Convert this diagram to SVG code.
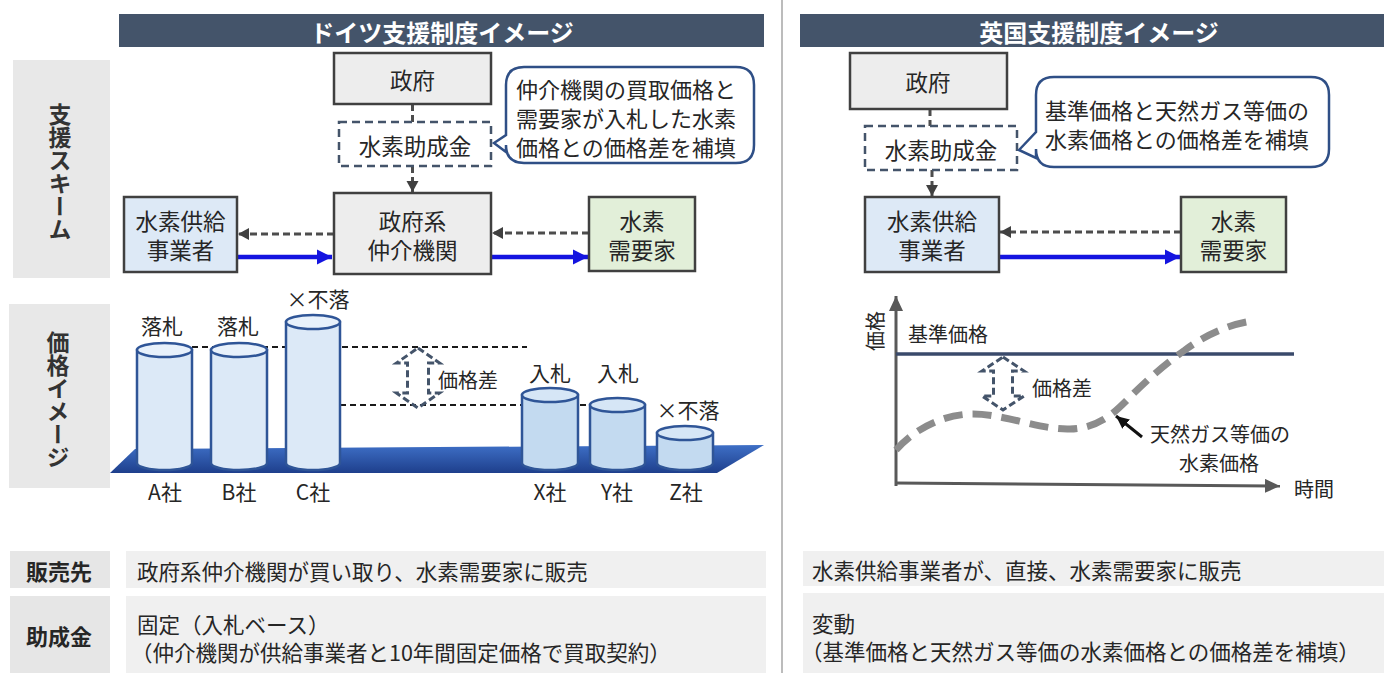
<svg xmlns="http://www.w3.org/2000/svg" width="1384" height="673" viewBox="0 0 1384 673">
<style>
text{font-family:"Noto Sans CJK JP","Noto Sans",sans-serif;fill:#262626;dominant-baseline:central}
.hdr{fill:#fff;font-weight:bold;font-size:24px;text-anchor:middle}
.side{font-weight:bold;font-size:23px;writing-mode:vertical-rl;text-anchor:middle;fill:#333}
.bx{font-size:22.5px;text-anchor:middle}
.co{font-size:22px}
.lb{font-size:21px;text-anchor:middle}
.sm{font-size:20px}
.row{font-size:21.5px}
.rowh{font-weight:bold;font-size:22px;text-anchor:middle}
.gray{fill:#ededed;stroke:#404040;stroke-width:2.5}
.blue{fill:#dde9f6;stroke:#404040;stroke-width:2.5}
.green{fill:#e2efd9;stroke:#404040;stroke-width:2.5}
.dbox{fill:#fff;stroke:#44546a;stroke-width:2.5;stroke-dasharray:8 5}
.dash{stroke:#4d4d4d;stroke-width:3;stroke-dasharray:7 4;fill:none}
.solid{stroke:#1414e0;stroke-width:4.5;fill:none}
.callout{fill:#fff;stroke:#2f4f86;stroke-width:2.5}
.cylA{fill:#dce9f7;stroke:#2f5597;stroke-width:2.5}
.cylX{fill:#c3daf0;stroke:#2f5597;stroke-width:2.5}
.topA{fill:#e8f1fb;stroke:#2f5597;stroke-width:2.5}
.topX{fill:#d6e6f6;stroke:#2f5597;stroke-width:2.5}
.bl{stroke:#1a1a1a;stroke-width:2;stroke-dasharray:6 4;fill:none}
.dbl{fill:none;stroke:#44546a;stroke-width:3;stroke-dasharray:7 3.5}
.rowbg{fill:#f0f0f0}
.rowhd{fill:#e6e6e6}
</style>
<defs>
<marker id="ahG" markerUnits="userSpaceOnUse" markerWidth="12" markerHeight="14" refX="11" refY="7" orient="auto"><path d="M0,1 L11,7 L0,13 Z" fill="#404040"/></marker>
<marker id="ahB" markerUnits="userSpaceOnUse" markerWidth="16" markerHeight="16" refX="15" refY="8" orient="auto"><path d="M0,0.5 L15,8 L0,15.5 Z" fill="#1414e0"/></marker>
<marker id="ahAx" markerUnits="userSpaceOnUse" markerWidth="16" markerHeight="14" refX="15" refY="7" orient="auto"><path d="M0,0 L15,7 L0,14 Z" fill="#595959"/></marker>
<marker id="ahK" markerUnits="userSpaceOnUse" markerWidth="14" markerHeight="14" refX="13" refY="7" orient="auto"><path d="M0,1 L13,7 L0,13 Z" fill="#111"/></marker>
<linearGradient id="plat" x1="0" y1="0" x2="0" y2="1"><stop offset="0" stop-color="#3e6fc6"/><stop offset="1" stop-color="#1e3f8c"/></linearGradient>
</defs>

<!-- divider -->
<line x1="782" y1="0" x2="782" y2="673" stroke="#a6a6a6" stroke-width="1.5"/>

<!-- headers -->
<g id="header-de"><rect x="119" y="14" width="645" height="33" fill="#44546a"/><text class="hdr" x="442" y="31">ドイツ支援制度イメージ</text></g>
<g id="header-uk"><rect x="800" y="14" width="584" height="33" fill="#44546a"/><text class="hdr" x="1099" y="31">英国支援制度イメージ</text></g>

<!-- sidebars -->
<g id="side-scheme"><rect x="13" y="60" width="97" height="218" fill="#e8e8e8"/><text class="side" x="60" y="172">支援スキーム</text></g>
<g id="side-price"><rect x="9" y="304" width="101" height="184" fill="#e8e8e8"/><text class="side" x="58" y="400">価格イメージ</text></g>

<!-- connectors -->
<g id="connectors">
<line class="dash" x1="412.5" y1="104" x2="412.5" y2="122"/>
<line class="dash" x1="412.5" y1="166" x2="412.5" y2="192" marker-end="url(#ahG)"/>
<line class="dash" x1="334" y1="234" x2="238" y2="234" marker-end="url(#ahG)"/>
<line class="dash" x1="589" y1="233" x2="492" y2="233" marker-end="url(#ahG)"/>
<line class="solid" x1="237" y1="257" x2="332" y2="257" marker-end="url(#ahB)"/>
<line class="solid" x1="491" y1="257" x2="588" y2="257" marker-end="url(#ahB)"/>
<line class="dash" x1="930" y1="109" x2="930" y2="126"/>
<line class="dash" x1="932" y1="170" x2="932" y2="196" marker-end="url(#ahG)"/>
<line class="dash" x1="1181" y1="232" x2="1000" y2="232" marker-end="url(#ahG)"/>
<line class="solid" x1="999" y1="257" x2="1180" y2="257" marker-end="url(#ahB)"/>
</g>

<!-- Germany scheme nodes -->
<g id="de-gov"><rect class="gray" x="334" y="53" width="157" height="51"/><text class="bx" x="412.5" y="79">政府</text></g>
<g id="de-subsidy"><rect class="dbox" x="339" y="122" width="152" height="44"/><text class="bx" x="415" y="145">水素助成金</text></g>
<g id="de-agency"><rect class="gray" x="334" y="193" width="157" height="81"/><text class="bx" x="412.5" y="220">政府系<tspan x="412.5" dy="29">仲介機関</tspan></text></g>
<g id="de-supplier"><rect class="blue" x="124" y="197" width="113" height="75"/><text class="bx" x="180.5" y="220">水素供給<tspan x="180.5" dy="29">事業者</tspan></text></g>
<g id="de-demand"><rect class="green" x="589" y="197" width="106" height="74"/><text class="bx" x="642" y="220">水素<tspan x="642" dy="29">需要家</tspan></text></g>
<g id="de-callout"><path class="callout" d="M524,67 H736 Q754,67 754,85 V145 Q754,163 736,163 H524 Q506,163 506,145 V152 L494,143 L506,135 V85 Q506,67 524,67 Z"/>
<text class="co" x="516" y="88">仲介機関の買取価格と<tspan x="516" dy="29">需要家が入札した水素</tspan><tspan x="516" dy="29">価格との価格差を補填</tspan></text></g>

<!-- UK scheme nodes -->
<g id="uk-gov"><rect class="gray" x="850" y="53" width="157" height="56"/><text class="bx" x="928" y="81">政府</text></g>
<g id="uk-subsidy"><rect class="dbox" x="865" y="126" width="152" height="44"/><text class="bx" x="941" y="149">水素助成金</text></g>
<g id="uk-supplier"><rect class="blue" x="865" y="197" width="134" height="75"/><text class="bx" x="932" y="220">水素供給<tspan x="932" dy="29">事業者</tspan></text></g>
<g id="uk-demand"><rect class="green" x="1181" y="197" width="105" height="75"/><text class="bx" x="1233.5" y="220">水素<tspan x="1233.5" dy="29">需要家</tspan></text></g>
<g id="uk-callout"><path class="callout" d="M1054,77 H1311 Q1329,77 1329,95 V149 Q1329,167 1311,167 H1054 Q1036,167 1036,149 V158 L1019,150 L1036,132 V95 Q1036,77 1054,77 Z"/>
<text class="co" x="1045" y="109">基準価格と天然ガス等価の<tspan x="1045" dy="29">水素価格との価格差を補填</tspan></text></g>

<!-- Germany price image -->
<g id="de-price">
<path d="M135,449 L764,445 L717,473 L110,473 Z" fill="url(#plat)"/>
<line class="bl" x1="192" y1="347" x2="527" y2="347"/>
<line class="bl" x1="340" y1="405" x2="590" y2="405"/>
<path class="cylA" d="M137,350 V463 A27.5,7 0 0 0 192,463 V350 Z"/><ellipse class="topA" cx="164.5" cy="350" rx="27.5" ry="7"/>
<path class="cylA" d="M211,350 V463 A28,7 0 0 0 267,463 V350 Z"/><ellipse class="topA" cx="239" cy="350" rx="28" ry="7"/>
<path class="cylA" d="M286,322 V463 A27,7 0 0 0 340,463 V322 Z"/><ellipse class="topA" cx="313" cy="322" rx="27" ry="7"/>
<path class="cylX" d="M522,395 V463 A28,7 0 0 0 578,463 V395 Z"/><ellipse class="topX" cx="550" cy="395" rx="28" ry="7"/>
<path class="cylX" d="M590,405 V463 A27.5,7 0 0 0 645,463 V405 Z"/><ellipse class="topX" cx="617.5" cy="405" rx="27.5" ry="7"/>
<path class="cylX" d="M657,433 V463 A28,7 0 0 0 713,463 V433 Z"/><ellipse class="topX" cx="685" cy="433" rx="28" ry="7"/>
<path class="dbl" d="M418,348 L439.5,363 L428.5,363 L428.5,393 L439.5,393 L418,408 L396.5,393 L407.5,393 L407.5,363 L396.5,363 Z"/>
<text class="sm" x="438" y="379">価格差</text>
<text class="lb" x="162" y="325">落札</text><text class="lb" x="238" y="325">落札</text><text class="lb" x="318" y="298">×不落</text>
<text class="lb" x="550" y="372">入札</text><text class="lb" x="618" y="372">入札</text><text class="lb" x="688" y="409">×不落</text>
<text class="lb" x="165" y="491">A社</text><text class="lb" x="239" y="491">B社</text><text class="lb" x="313" y="491">C社</text>
<text class="lb" x="550" y="491">X社</text><text class="lb" x="617" y="491">Y社</text><text class="lb" x="686" y="491">Z社</text>
</g>

<!-- UK price image -->
<g id="uk-price">
<line x1="896" y1="486" x2="896" y2="296" stroke="#595959" stroke-width="3" marker-end="url(#ahAx)"/>
<line x1="895" y1="483" x2="1280" y2="486" stroke="#595959" stroke-width="3" marker-end="url(#ahAx)"/>
<text class="sm" transform="translate(874,331) rotate(-90)" text-anchor="middle">価格</text>
<text class="sm" x="908" y="333">基準価格</text>
<line x1="896" y1="354" x2="1294" y2="354" stroke="#3a4a6b" stroke-width="3.5"/>
<path d="M896,450 C915,428 945,414 973,414 C1005,414 1040,430 1070,429 C1100,428 1115,412 1130,397 C1150,377 1168,362 1185,350 C1205,335 1230,324 1252,321" fill="none" stroke="#8c8c8c" stroke-width="7" stroke-dasharray="19 10"/>
<path class="dbl" d="M1003,357 L1024,371 L1012.5,371 L1012.5,396 L1024,396 L1003,410 L982,396 L993.5,396 L993.5,371 L982,371 Z"/>
<text class="sm" x="1032" y="387">価格差</text>
<line x1="1142" y1="437" x2="1116" y2="416" stroke="#111" stroke-width="3" marker-end="url(#ahK)"/>
<text class="sm" x="1150" y="433">天然ガス等価の<tspan x="1179" dy="29">水素価格</tspan></text>
<text class="sm" x="1294" y="488">時間</text>
</g>

<!-- bottom rows -->
<g id="row-sales-de"><rect class="rowhd" x="10" y="551" width="100" height="37"/><text class="rowh" x="59" y="570">販売先</text>
<rect class="rowbg" x="126" y="551" width="640" height="37"/><text class="row" x="137" y="570">政府系仲介機関が買い取り、水素需要家に販売</text></g>
<g id="row-subsidy-de"><rect class="rowhd" x="10" y="596" width="100" height="77"/><text class="rowh" x="59" y="635">助成金</text>
<rect class="rowbg" x="126" y="596" width="640" height="77"/><text class="row" x="137" y="623">固定（入札ベース）<tspan x="131" dy="28">（仲介機関が供給事業者と10年間固定価格で買取契約）</tspan></text></g>
<g id="row-sales-uk"><rect class="rowbg" x="803" y="551" width="581" height="35"/><text class="row" x="812" y="569">水素供給事業者が、直接、水素需要家に販売</text></g>
<g id="row-subsidy-uk"><rect class="rowbg" x="803" y="593" width="581" height="80"/><text class="row" x="812" y="622">変動<tspan x="801" dy="28">（基準価格と天然ガス等価の水素価格との価格差を補填）</tspan></text></g>
</svg>
